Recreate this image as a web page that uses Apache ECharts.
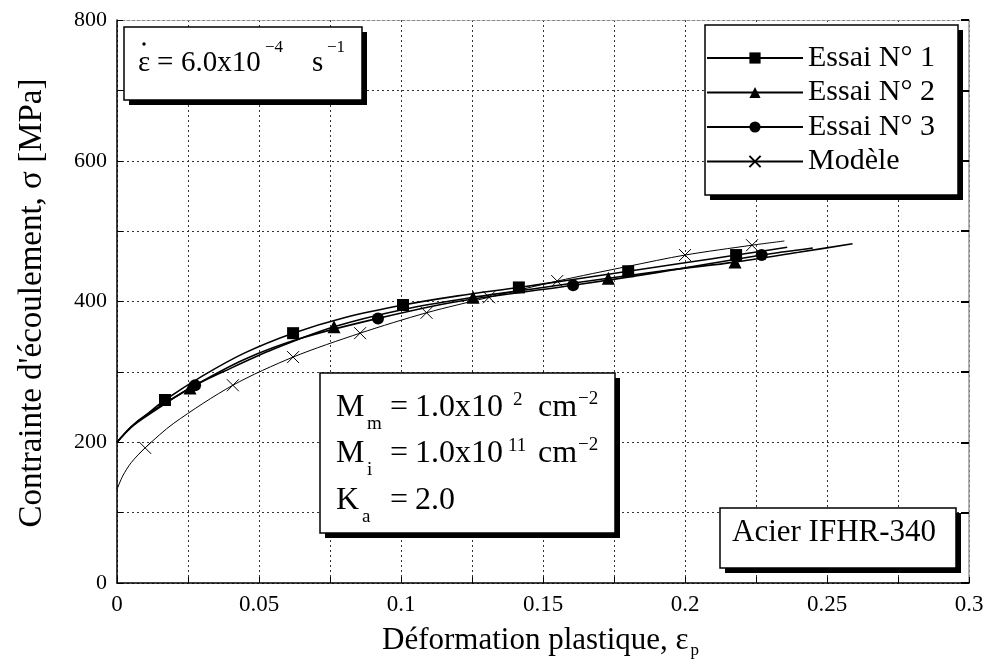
<!DOCTYPE html>
<html><head><meta charset="utf-8">
<script src="https://cdn.jsdelivr.net/npm/echarts@6/dist/echarts.min.js"></script>
<style>html,body{margin:0;padding:0;background:#fff}#c{width:994px;height:670px}</style>
</head><body><div id="c"></div>
<script>
// ---- data ----
const essai1X = [0, 0.005, 0.01, 0.0169, 0.03, 0.045, 0.062, 0.08, 0.1007, 0.12, 0.1415, 0.16, 0.18, 0.2, 0.218, 0.236];
const essai1Y = [200, 222, 238, 260, 294, 327, 355, 377, 395, 408, 420, 431, 443, 455, 466, 477];
const essai1MarkX = [0.0169, 0.062, 0.1007, 0.1415, 0.18, 0.218];

const essai2X = [0, 0.005, 0.01, 0.0257, 0.04, 0.055, 0.0764, 0.1, 0.1254, 0.15, 0.173, 0.195, 0.2176, 0.24, 0.259];
const essai2Y = [200, 221, 236, 277, 305, 332, 364, 388, 406, 420, 433, 445, 456, 470, 482];
const essai2MarkX = [0.0257, 0.0764, 0.1254, 0.173, 0.2176];

const essai3X = [0, 0.005, 0.01, 0.0275, 0.045, 0.065, 0.0919, 0.12, 0.1606, 0.19, 0.227, 0.245];
const essai3Y = [200, 222, 238, 281, 318, 348, 376, 400, 423, 441, 466, 476];
const essai3MarkX = [0.0275, 0.0919, 0.1606, 0.227];

const modeleX = [0, 0.002, 0.005, 0.0099, 0.02, 0.0408, 0.062, 0.0856, 0.109, 0.131, 0.155, 0.18, 0.2, 0.2236, 0.235];
const modeleY = [133, 152, 171, 192, 227, 281, 321, 355, 384, 406, 429, 450, 466, 480, 486];
const modeleMarkX = [0.0099, 0.0408, 0.062, 0.0856, 0.109, 0.131, 0.155, 0.2, 0.2236];

const seriesNames = ['Essai N° 1', 'Essai N° 2', 'Essai N° 3', 'Modèle'];
const xLabelTicks = [0, 0.05, 0.1, 0.15, 0.2, 0.25, 0.3];
const yLabelTicks = [0, 200, 400, 600, 800];

// ---- chart ----
const FONT = '"Liberation Serif", "Times New Roman", serif';
function build(xs, ys, marks) {
  return xs.map((x, i) => marks.indexOf(x) >= 0 ? { value: [x, ys[i]] } : { value: [x, ys[i]], symbol: 'none' });
}
const chart = echarts.init(document.getElementById('c'), null, { renderer: 'canvas' });

function txt(x, y, s, fs, extra) {
  return Object.assign({
    type: 'text', x: x, y: y, z: 30,
    style: { text: s, fontSize: fs, fontFamily: FONT, fill: '#000',
      align: 'left', textAlign: 'left', verticalAlign: 'middle', textVerticalAlign: 'middle' }
  }, extra || {});
}
function box(x, y, w, h) {
  return [
    { type: 'rect', z: 20, shape: { x: x + 5, y: y + 5, width: w, height: h }, style: { fill: '#000' } },
    { type: 'rect', z: 21, shape: { x: x, y: y, width: w, height: h }, style: { fill: '#fff', stroke: '#000', lineWidth: 1.5 } }
  ];
}

const graphics = [].concat(
  box(124, 27, 238, 73),
  [
    txt(138, 63, 'ε', 29),
    { type: 'circle', z: 30, shape: { cx: 144, cy: 44, r: 1.7 }, style: { fill: '#000' } },
    txt(157, 63, '=', 29),
    txt(181, 63, '6.0x10', 29),
    txt(265, 48, '−4', 17),
    txt(312, 63, 's', 29),
    txt(327, 48, '−1', 17)
  ],
  box(320, 373, 295, 160),
  [
    txt(336, 408, 'M', 32), txt(367, 424, 'm', 19), txt(390, 408, '=', 32), txt(415, 408, '1.0x10', 32),
    txt(513, 400, '2', 19), txt(538, 408, 'cm', 32), txt(578, 399, '−2', 19),
    txt(336, 454, 'M', 32), txt(367, 470, 'i', 19), txt(390, 454, '=', 32), txt(415, 454, '1.0x10', 32),
    txt(508, 446, '11', 19), txt(538, 454, 'cm', 32), txt(578, 445, '−2', 19),
    txt(336, 501, 'K', 32), txt(362, 517, 'a', 19), txt(390, 501, '=', 32), txt(415, 501, '2.0', 32)
  ],
  box(720, 508, 236, 60),
  [ txt(732, 533, 'Acier IFHR-340', 31) ],
  box(705, 25, 253, 170),
  [
    { type: 'text', x: 382, y: 641, z: 5,
      style: { text: '{a|Déformation plastique, ε}{p|p}', fill: '#000', fontFamily: FONT,
        align: 'left', textAlign: 'left', verticalAlign: 'middle', textVerticalAlign: 'middle',
        rich: { a: { fontSize: 31, fontFamily: FONT, fill: '#000', color: '#000' },
                p: { fontSize: 17, fontFamily: FONT, fill: '#000', color: '#000', padding: [20, 0, 0, 2] } } } },
    { type: 'text', x: 32, y: 303, rotation: Math.PI / 2, z: 5,
      style: { text: "Contrainte d'écoulement, σ [MPa]", fontSize: 33, fontFamily: FONT, fill: '#000',
        align: 'center', textAlign: 'center', verticalAlign: 'middle', textVerticalAlign: 'middle' } }
  ]
);

const dotted = { type: [2, 3], color: '#333', width: 1 };
const option = {
  animation: false,
  backgroundColor: '#fff',
  grid: { left: 117, right: 25, top: 20, bottom: 87, containLabel: false, outerBoundsMode: 'none' },
  legend: {
    orient: 'vertical', left: 706, top: 25, z: 40,
    padding: [18, 0, 12, 0],
    itemWidth: 96, itemHeight: 14, itemGap: 4.5,
    textStyle: { fontFamily: FONT, fontSize: 30, lineHeight: 30, color: '#000' },
    data: seriesNames
  },
  xAxis: [
    { type: 'value', min: 0, max: 0.3, interval: 0.025, position: 'bottom',
      axisLine: { onZero: false, lineStyle: { color: '#000', width: 1.5 } },
      axisTick: { inside: true, length: 6, lineStyle: { color: '#000' } },
      axisLabel: { color: '#000', fontFamily: FONT, fontSize: 23, margin: 10,
        formatter: v => { const r = Math.round(v * 1000) / 1000; return xLabelTicks.indexOf(r) >= 0 ? String(r) : ''; } },
      splitLine: { show: true, lineStyle: dotted } },
    { type: 'value', min: 0, max: 0.3, interval: 0.025, position: 'top',
      axisLine: { onZero: false, lineStyle: { color: '#888', width: 1, type: [3, 2] } },
      axisTick: { show: false }, axisLabel: { show: false }, splitLine: { show: false } }
  ],
  yAxis: [
    { type: 'value', min: 0, max: 800, interval: 100, position: 'left',
      axisLine: { show: true, onZero: false, lineStyle: { color: '#000', width: 1.5 } },
      axisTick: { show: true, inside: true, length: 6, lineStyle: { color: '#000' } },
      axisLabel: { color: '#000', fontFamily: FONT, fontSize: 22, margin: 10,
        formatter: v => yLabelTicks.indexOf(v) >= 0 ? String(v) : '' },
      splitLine: { show: true, lineStyle: dotted } },
    { type: 'value', min: 0, max: 800, interval: 100, position: 'right',
      axisLine: { show: true, onZero: false, lineStyle: { color: '#999', width: 1.5 } },
      axisTick: { show: true, inside: true, length: 8, lineStyle: { color: '#000', width: 2 } },
      axisLabel: { show: false }, splitLine: { show: false } }
  ],
  series: [
    { name: seriesNames[0], type: 'line', smooth: 0.3, z: 3, data: build(essai1X, essai1Y, essai1MarkX),
      symbol: 'rect', symbolSize: 12, itemStyle: { color: '#000' }, lineStyle: { color: '#000', width: 1.6 } },
    { name: seriesNames[1], type: 'line', smooth: 0.3, z: 3, data: build(essai2X, essai2Y, essai2MarkX),
      symbol: 'triangle', symbolSize: 13, itemStyle: { color: '#000' }, lineStyle: { color: '#000', width: 1.6 } },
    { name: seriesNames[2], type: 'line', smooth: 0.3, z: 3, data: build(essai3X, essai3Y, essai3MarkX),
      symbol: 'circle', symbolSize: 12, itemStyle: { color: '#000' }, lineStyle: { color: '#000', width: 1.6 } },
    { name: seriesNames[3], type: 'line', smooth: 0.3, z: 3, data: build(modeleX, modeleY, modeleMarkX),
      symbol: 'path://M0,0L10,10M10,0L0,10', symbolSize: 12,
      itemStyle: { color: '#000', borderColor: '#000', borderWidth: 1 }, lineStyle: { color: '#000', width: 1 } }
  ],
  graphic: { elements: graphics }
};
chart.setOption(option);
</script></body></html>
